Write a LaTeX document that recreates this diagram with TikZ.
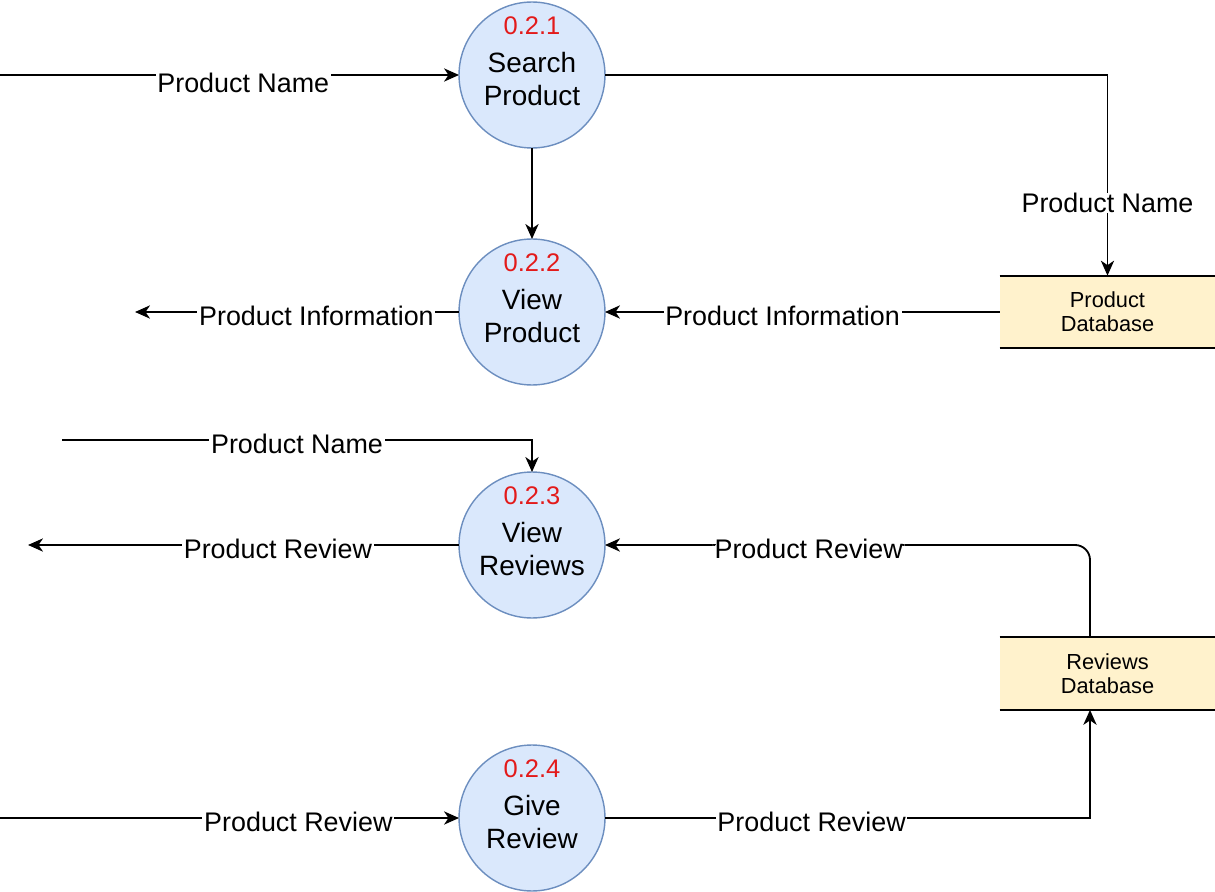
\documentclass[tikz,border=0pt]{standalone}
\usepackage{fontspec}
\setmainfont{Liberation Sans}
\usetikzlibrary{positioning,arrows.meta,calc}
\definecolor{procfill}{HTML}{DAE8FC}
\definecolor{procline}{HTML}{6C8EBF}
\definecolor{storefill}{HTML}{FFF2CC}
\definecolor{numred}{HTML}{E31A1A}

\begin{document}
\begin{tikzpicture}
    [x=0.02cm, y=-0.02cm,
    font=\fontsize{15.3}{18}\selectfont,
    proc/.style={circle, fill=procfill, draw=procline, line width=0.8pt,
        minimum size=2.92cm, inner sep=0pt, outer sep=0pt},
    proctext/.style={align=center, inner sep=0pt, font=\fontsize{15.9}{19.3}\selectfont},
    procnum/.style={inner sep=0pt, text=numred, font=\fontsize{14.5}{17}\selectfont},
    store/.style={rectangle, fill=storefill, minimum width=4.3cm, minimum height=1.44cm,
        inner sep=0pt, align=center, font=\fontsize{12.4}{13.6}\selectfont},
    storeline/.style={draw=black, line width=1.1pt},
    flow/.style={draw=black, line width=1.05pt, -{Stealth[length=8.5pt, width=7.5pt, inset=2.5pt]}},
    lbl/.style={fill=white, inner xsep=1pt, inner ysep=0pt, yshift=-2pt}]
    \useasboundingbox (0,0) rectangle (1215,892);

    \node[proc] (sp) at (532,75) {};
    \node[procnum] (spnum) at ($(sp)+(0,-49)$) {0.2.1};
    \node[proctext] (sptxt) at ($(sp)+(0,4)$) {Search\\Product};

    \node[proc] (vp) at (532,312) {};
    \node[procnum] (vpnum) at ($(vp)+(0,-49)$) {0.2.2};
    \node[proctext] (vptxt) at ($(vp)+(0,4)$) {View\\Product};

    \node[proc] (vr) at (532,545) {};
    \node[procnum] (vrnum) at ($(vr)+(0,-49)$) {0.2.3};
    \node[proctext] (vrtxt) at ($(vr)+(0,4)$) {View\\Reviews};

    \node[proc] (gr) at (532,818) {};
    \node[procnum] (grnum) at ($(gr)+(0,-49)$) {0.2.4};
    \node[proctext] (grtxt) at ($(gr)+(0,4)$) {Give\\Review};

    \node[store] (pdb) at (1107.5,312) {Product\\Database};
    \draw[storeline] (pdb.north west) -- (pdb.north east) (pdb.south west) -- (pdb.south east);
    \node[store] (rdb) at (1107.5,673.5) {Reviews\\Database};
    \draw[storeline] (rdb.north west) -- (rdb.north east) (rdb.south west) -- (rdb.south east);

    \coordinate (pnamein) at (0,75);
    \draw[flow] (pnamein) -- (sp.west) node[lbl, pos=0.53, yshift=-2.5pt, inner ysep=3pt] {Product Name};
    \draw[flow] (sp.east) -| (pdb.north) node[lbl, pos=0.81] {Product Name};
    \draw[flow] (sp.south) -- (vp.north);
    \draw[flow] (pdb.west) -- (vp.east) node[lbl, pos=0.55] {Product Information};
    \coordinate (pinfoout) at (135,312);
    \draw[flow] (vp.west) -- (pinfoout) node[lbl, pos=0.44] {Product Information};

    \coordinate (pnamein2) at (62,440);
    \draw[flow] (pnamein2) -| (vr.north) node[lbl, pos=0.25] {Product Name};
    \coordinate (previewout) at (28,545);
    \draw[flow] (vr.west) -- (previewout) node[lbl, pos=0.42] {Product Review};
    \draw[flow, rounded corners=0.3cm] ([xshift=-0.35cm]rdb.north) |- (vr.east)
        node[lbl, pos=0.79] {Product Review};

    \coordinate (previewin) at (0,818);
    \draw[flow] (previewin) -- (gr.west) node[lbl, pos=0.65] {Product Review};
    \draw[flow] (gr.east) -| ([xshift=-0.35cm]rdb.south) node[lbl, pos=0.213] {Product Review};
\end{tikzpicture}
\end{document}
